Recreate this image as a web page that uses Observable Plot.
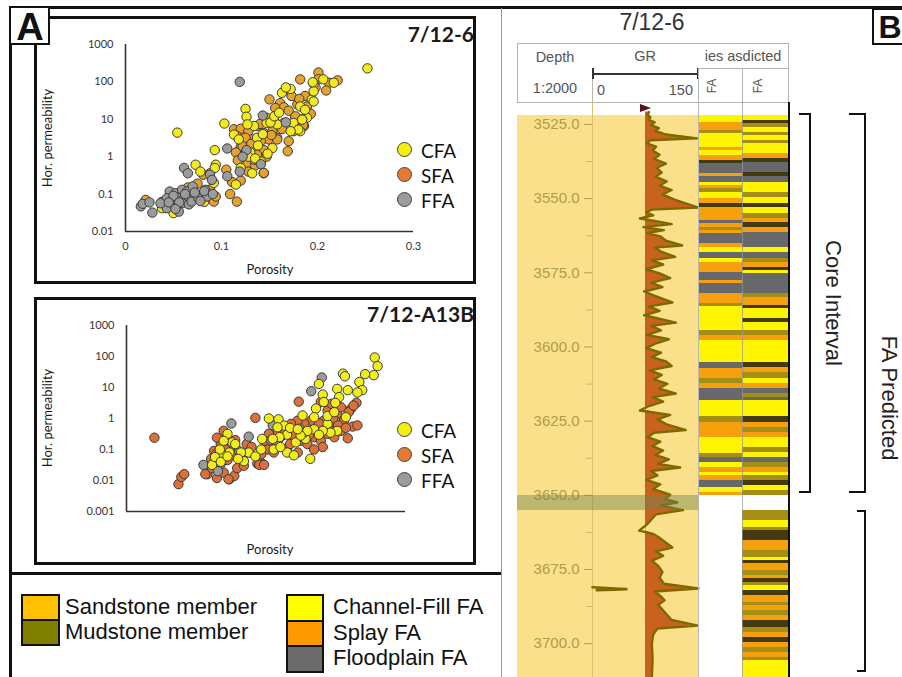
<!DOCTYPE html>
<html><head><meta charset="utf-8">
<script src="https://cdn.jsdelivr.net/npm/d3@7"></script>
<script src="https://cdn.jsdelivr.net/npm/@observablehq/plot@0.6"></script>
<style>
body{margin:0;background:#fff;}
#root{position:relative;width:902px;height:677px;overflow:hidden;background:#fff;font-family:"Liberation Sans",Arial,sans-serif;}
svg{display:block}
</style></head><body><div id="root"></div>
<script>
// ---------------- DATA ----------------
const faCats = ["CFA", "SFA", "FFA"];
const faLegendColors = ["#f6ee10", "#e57a33", "#9b9b9b"];
const p1Colors = ["#f3ea1c", "#e6a32b", "#9b9b9b"];
const p2Colors = ["#f4ee18", "#d9713a", "#9b9b9b"];
const logTicks1 = [0.01, 0.1, 1, 10, 100, 1000];
const logTicks2 = [0.001, 0.01, 0.1, 1, 10, 100, 1000];
const porTicks1 = [0, 0.1, 0.2, 0.3];

// well 7/12-6 : [porosity, horizontal permeability]
const p1CFA = [[0.252,230],[0.054,4.4],[0.125,19],[0.126,11.7],[0.103,7.7],[0.093,1.5],[0.073,0.61],[0.094,0.61],[0.093,0.5],[0.078,0.4],[0.038,0.042],[0.050,0.031],[0.115,0.18],[0.092,0.2],[0.163,51],[0.172,65],[0.196,89],[0.206,117],[0.217,95],[0.194,34],[0.182,22],[0.189,11],[0.184,10],[0.175,8],[0.158,7.3],[0.147,8],[0.134,6.6],[0.127,7.3],[0.113,3.9],[0.118,2.9],[0.137,3.2],[0.153,1.7],[0.130,1.3],[0.141,0.74],[0.132,0.36],[0.182,4.8],[0.196,56],[0.082,0.062],[0.151,8.2],[0.184,9.8],[0.180,5.3],[0.172,4.8],[0.167,71],[0.187,18],[0.196,30],[0.195,98],[0.143,4],[0.128,1.0],[0.12,0.5],[0.138,2.0],[0.155,12],[0.16,15],[0.148,1.2],[0.135,0.9]];
const p1SFA = [[0.201,178],[0.182,117],[0.221,110],[0.212,95],[0.201,118],[0.198,71],[0.209,59],[0.170,59],[0.173,42],[0.150,34],[0.187,42],[0.161,27],[0.165,21],[0.179,25],[0.189,22],[0.170,17],[0.158,15],[0.147,11],[0.155,9],[0.165,8],[0.177,11],[0.186,6.6],[0.175,4.8],[0.170,2.6],[0.169,1.4],[0.113,5.4],[0.120,5.6],[0.128,4.8],[0.137,6.6],[0.144,4.3],[0.153,4.8],[0.158,3.2],[0.149,2.9],[0.141,2.6],[0.132,2.9],[0.125,3.2],[0.116,3.6],[0.120,1.8],[0.115,1.3],[0.134,1.6],[0.144,1.5],[0.137,1.13],[0.147,1.0],[0.130,1.0],[0.127,0.64],[0.135,0.58],[0.144,0.36],[0.128,0.40],[0.120,0.23],[0.111,0.21],[0.109,0.1],[0.116,0.063],[0.092,0.063],[0.094,0.086],[0.088,0.13],[0.075,0.19],[0.081,0.33],[0.088,0.36],[0.021,0.07],[0.040,0.063],[0.069,0.105],[0.038,0.062],[0.185,7],[0.177,12],[0.158,2.9],[0.134,0.83],[0.144,0.37],[0.122,1.9],[0.163,5.5],[0.193,14],[0.181,35],[0.156,20],[0.14,7.5],[0.131,2.2],[0.152,3.8],[0.125,1.2],[0.117,0.8],[0.105,0.45],[0.065,0.15],[0.08,0.08],[0.06,0.09]];
const p1FFA = [[0.119,100],[0.143,12.6],[0.167,8.3],[0.106,1.66],[0.126,1.5],[0.141,0.63],[0.119,0.4],[0.061,0.5],[0.065,0.36],[0.088,0.33],[0.090,0.24],[0.106,0.3],[0.016,0.047],[0.018,0.055],[0.025,0.06],[0.028,0.032],[0.046,0.117],[0.052,0.105],[0.059,0.13],[0.064,0.117],[0.043,0.077],[0.049,0.07],[0.054,0.081],[0.061,0.077],[0.068,0.086],[0.073,0.095],[0.083,0.13],[0.081,0.086],[0.049,0.051],[0.054,0.046],[0.059,0.057],[0.066,0.053],[0.069,0.063],[0.0555,0.034],[0.043,0.042],[0.076,0.077],[0.085,0.086],[0.0365,0.057],[0.122,1.0],[0.07,0.16],[0.082,0.12],[0.072,0.11],[0.062,0.1],[0.05,0.09],[0.056,0.06],[0.078,0.065],[0.045,0.06],[0.052,0.04],[0.091,0.1]];

// well 7/12-A13B
const p2CFA = [[0.258,93],[0.261,49],[0.257,25],[0.248,27],[0.242,15],[0.245,8.2],[0.240,6.9],[0.225,28],[0.227,23],[0.219,9],[0.23,8.2],[0.221,4.9],[0.2,13],[0.204,5.9],[0.205,3.4],[0.197,2.1],[0.217,3.2],[0.209,0.67],[0.219,0.4],[0.212,0.35],[0.204,0.4],[0.195,0.45],[0.186,0.22],[0.191,0.05],[0.185,0.36],[0.176,0.17],[0.167,0.3],[0.159,0.25],[0.152,0.22],[0.141,0.22],[0.148,1.0],[0.158,0.94],[0.164,0.59],[0.157,0.52],[0.167,0.08],[0.174,0.065],[0.153,0.1],[0.127,0.08],[0.134,0.06],[0.122,0.042],[0.107,0.08],[0.1,0.063],[0.094,0.042],[0.089,0.032],[0.105,0.32],[0.11,0.17],[0.113,0.15],[0.101,0.19],[0.097,0.1],[0.092,0.057],[0.119,0.08],[0.195,1.1],[0.188,0.4],[0.181,0.28],[0.209,1.2],[0.228,1.1],[0.216,1.6],[0.183,1.25],[0.17,0.5],[0.178,0.45],[0.2,0.3],[0.16,0.12],[0.14,0.1],[0.116,0.05],[0.098,0.04],[0.105,0.06]];
const p2SFA = [[0.029,0.24],[0.054,0.0076],[0.057,0.013],[0.060,0.016],[0.179,3.5],[0.134,1.05],[0.230,0.23],[0.235,0.55],[0.239,3.2],[0.233,2.0],[0.202,3.4],[0.084,0.016],[0.089,0.025],[0.094,0.012],[0.101,0.018],[0.107,0.011],[0.112,0.014],[0.098,0.034],[0.105,0.046],[0.115,0.025],[0.122,0.03],[0.119,0.055],[0.127,0.08],[0.136,0.035],[0.141,0.035],[0.091,0.09],[0.098,0.15],[0.105,0.19],[0.1,0.06],[0.112,0.065],[0.117,0.088],[0.094,0.24],[0.101,0.4],[0.146,0.1],[0.153,0.08],[0.157,0.15],[0.16,0.25],[0.167,0.11],[0.174,0.28],[0.181,0.19],[0.188,0.15],[0.195,0.25],[0.202,0.19],[0.209,0.32],[0.216,0.25],[0.223,0.4],[0.226,0.85],[0.219,1.4],[0.212,0.67],[0.205,0.85],[0.198,0.52],[0.192,0.85],[0.185,0.67],[0.178,0.85],[0.171,0.67],[0.164,0.52],[0.157,0.4],[0.148,0.32],[0.143,0.19],[0.209,1.8],[0.223,2.3],[0.231,1.6],[0.204,0.12],[0.195,0.1],[0.178,0.08],[0.088,0.05],[0.093,0.07],[0.108,0.12],[0.113,0.2],[0.103,0.1],[0.096,0.045],[0.125,0.15],[0.13,0.12],[0.14,0.07],[0.15,0.2],[0.165,0.35],[0.17,0.15],[0.185,0.35],[0.19,0.3],[0.2,0.7],[0.21,0.45],[0.215,1.0],[0.22,0.6],[0.228,0.5],[0.24,0.6],[0.236,2.6],[0.213,3.0],[0.138,0.032],[0.143,0.032],[0.082,0.016],[0.106,0.011]];
const p2FFA = [[0.203,21],[0.192,7.6],[0.109,0.69],[0.127,0.26],[0.152,0.6],[0.18,0.47],[0.08,0.032],[0.095,0.02]];

const memberLabels = ["Sandstone member", "Mudstone member"];
const memberColors = ["#ffc000", "#7f7f00"];
const faLabels = ["Channel-Fill FA", "Splay FA", "Floodplain FA"];
const faColors = ["#ffff00", "#ff9900", "#6b6b6b"];

const depthTicks = [3525, 3550, 3575, 3600, 3625, 3650, 3675, 3700];
const depthMinor = [3537.5, 3562.5, 3587.5, 3612.5, 3637.5, 3662.5, 3687.5];
const depthDomain = [3517.6, 3711.4];
const grDomain = [0, 150];
const grBaseline = 75;
// [depth m, GR API]
const grLog = [[3520.8,80],[3521.8,78],[3522.6,82],[3523.4,79],[3524.3,88],[3525.2,83],[3526.2,94],[3527.2,89],[3528.4,104],[3529.7,148],[3530.3,82],[3531.4,77],[3532.5,90],[3533.8,85],[3535.2,95],[3536.6,87],[3538.2,104],[3539.6,91],[3541.2,98],[3542.6,89],[3544.2,105],[3545.6,95],[3547.1,112],[3548.6,99],[3550.4,117],[3553.0,150],[3553.7,84],[3554.6,76],[3555.6,86],[3556.7,67],[3557.5,88],[3558.6,112],[3559.6,72],[3560.6,101],[3561.6,78],[3562.7,96],[3564.2,104],[3565.8,127],[3566.5,88],[3567.9,97],[3569.6,117],[3570.8,84],[3572.2,100],[3573.8,76],[3575.3,96],[3576.8,110],[3578.3,83],[3579.8,99],[3581.3,73],[3583.0,91],[3585.0,113],[3586.3,80],[3587.8,95],[3589.3,73],[3590.8,100],[3591.8,118],[3592.9,83],[3594.4,97],[3595.9,77],[3597.4,108],[3598.9,89],[3600.4,76],[3601.9,97],[3603.4,84],[3604.9,104],[3606.4,112],[3607.9,81],[3609.4,98],[3610.9,87],[3612.4,106],[3614.0,94],[3615.7,118],[3616.9,85],[3618.4,100],[3619.9,80],[3621.4,67],[3622.9,110],[3624.4,92],[3626.0,104],[3628.0,132],[3628.9,87],[3630.4,78],[3631.9,96],[3633.4,85],[3634.9,100],[3636.4,89],[3637.9,108],[3639.4,93],[3640.6,124],[3641.8,83],[3643.3,92],[3644.8,76],[3646.3,96],[3647.9,86],[3649.8,110],[3651.3,103],[3652.4,120],[3653.4,97],[3655.0,128],[3656.4,90],[3658.0,84],[3659.8,77],[3661.9,66],[3663.0,86],[3664.5,96],[3666.0,104],[3667.6,113],[3668.9,90],[3670.4,100],[3672.0,84],[3673.8,93],[3675.8,99],[3677.8,95],[3679.8,101],[3681.4,150],[3682.4,88],[3683.9,96],[3685.4,102],[3686.9,93],[3688.8,100],[3690.4,106],[3692.0,112],[3693.9,149],[3694.9,92],[3696.8,86],[3700.0,84],[3705.0,85],[3711.4,84]];
const grAux = [[3681.0,0],[3681.2,14],[3681.4,32],[3681.6,48],[3681.8,30],[3682.0,6]];

const faciesCodes = ["Y", "O", "G", "D", "L"];
const faciesColors = ["#fff500", "#f5a00c", "#67686c", "#45390f", "#a58e14"];
// [top, base, facies]
const col1Facies = [[3522.0,3524.5,"Y"],[3524.5,3527.0,"O"],[3527.0,3528.1,"L"],[3528.1,3532.6,"Y"],[3532.6,3533.8,"O"],[3533.8,3535.4,"Y"],[3535.4,3537.1,"O"],[3537.1,3538.3,"D"],[3538.3,3541.6,"G"],[3541.6,3542.7,"O"],[3542.7,3544.4,"G"],[3544.4,3545.6,"Y"],[3545.6,3546.7,"O"],[3546.7,3547.8,"L"],[3547.8,3550.1,"Y"],[3550.1,3551.7,"O"],[3551.7,3552.9,"D"],[3552.9,3557.4,"O"],[3557.4,3558.5,"G"],[3558.5,3559.6,"O"],[3559.6,3560.7,"L"],[3560.7,3561.9,"O"],[3561.9,3565.2,"G"],[3565.2,3566.4,"O"],[3566.4,3568.0,"Y"],[3568.0,3570.3,"G"],[3570.3,3571.4,"Y"],[3571.4,3574.8,"O"],[3574.8,3577.6,"G"],[3577.6,3578.7,"O"],[3578.7,3582.1,"G"],[3582.1,3585.4,"O"],[3585.4,3586.5,"L"],[3586.5,3594.4,"Y"],[3594.4,3596.1,"L"],[3596.1,3597.8,"O"],[3597.8,3605.1,"Y"],[3605.1,3607.3,"G"],[3607.3,3610.7,"O"],[3610.7,3612.4,"L"],[3612.4,3614.1,"O"],[3614.1,3618.0,"G"],[3618.0,3623.6,"Y"],[3623.6,3625.3,"L"],[3625.3,3630.4,"O"],[3630.4,3636.0,"Y"],[3636.0,3637.1,"L"],[3637.1,3638.8,"G"],[3638.8,3640.5,"Y"],[3640.5,3642.2,"O"],[3642.2,3643.3,"Y"],[3643.3,3645.0,"O"],[3645.0,3647.2,"G"],[3647.2,3648.9,"Y"],[3648.9,3650.0,"O"]];
const col2Facies = [[3522.0,3523.6,"Y"],[3523.6,3524.8,"D"],[3524.8,3525.9,"L"],[3525.9,3527.6,"Y"],[3527.6,3528.7,"L"],[3528.7,3530.4,"Y"],[3530.4,3531.5,"L"],[3531.5,3534.9,"Y"],[3534.9,3536.6,"O"],[3536.6,3537.7,"D"],[3537.7,3541.1,"G"],[3541.1,3542.5,"D"],[3542.5,3544.4,"G"],[3544.4,3547.8,"Y"],[3547.8,3549.5,"L"],[3549.5,3551.7,"Y"],[3551.7,3552.9,"D"],[3552.9,3555.1,"Y"],[3555.1,3556.8,"L"],[3556.8,3557.9,"O"],[3557.9,3559.6,"D"],[3559.6,3561.3,"O"],[3561.3,3566.4,"G"],[3566.4,3568.0,"Y"],[3568.0,3570.3,"G"],[3570.3,3571.4,"L"],[3571.4,3573.1,"O"],[3573.1,3574.2,"D"],[3574.2,3575.3,"Y"],[3575.3,3582.1,"G"],[3582.1,3583.2,"L"],[3583.2,3586.0,"O"],[3586.0,3587.1,"D"],[3587.1,3590.5,"Y"],[3590.5,3591.6,"D"],[3591.6,3594.4,"Y"],[3594.4,3596.1,"L"],[3596.1,3597.8,"O"],[3597.8,3605.1,"Y"],[3605.1,3606.8,"D"],[3606.8,3608.5,"O"],[3608.5,3610.7,"L"],[3610.7,3612.4,"Y"],[3612.4,3614.1,"O"],[3614.1,3615.8,"G"],[3615.8,3616.9,"L"],[3616.9,3618.0,"G"],[3618.0,3623.6,"Y"],[3623.6,3625.3,"D"],[3625.3,3627.0,"O"],[3627.0,3628.7,"L"],[3628.7,3630.4,"O"],[3630.4,3633.8,"Y"],[3633.8,3635.4,"L"],[3635.4,3637.1,"Y"],[3637.1,3638.8,"G"],[3638.8,3640.5,"L"],[3640.5,3642.2,"O"],[3642.2,3643.3,"Y"],[3643.3,3645.0,"L"],[3645.0,3646.7,"D"],[3646.7,3648.4,"Y"],[3648.4,3650.0,"L"],
[3655.2,3658.5,"L"],[3658.5,3660.8,"Y"],[3660.8,3661.9,"L"],[3661.9,3665.3,"D"],[3665.3,3668.6,"O"],[3668.6,3670.9,"L"],[3670.9,3672.0,"Y"],[3672.0,3673.1,"D"],[3673.1,3675.4,"O"],[3675.4,3677.1,"L"],[3677.1,3678.2,"O"],[3678.2,3679.3,"D"],[3679.3,3680.4,"L"],[3680.4,3682.1,"Y"],[3682.1,3683.8,"D"],[3683.8,3686.1,"O"],[3686.1,3687.2,"L"],[3687.2,3688.9,"O"],[3688.9,3690.6,"L"],[3690.6,3692.2,"O"],[3692.2,3694.5,"D"],[3694.5,3696.2,"L"],[3696.2,3697.9,"O"],[3697.9,3699.5,"D"],[3699.5,3701.2,"O"],[3701.2,3702.9,"L"],[3702.9,3704.6,"O"],[3704.6,3705.7,"L"],[3705.7,3711.5,"Y"]];
const highlightBand = [3650.1, 3655.1];
const coreInterval = [3521.3, 3649.5];
const predictedIntervals = [[3521.3, 3649.5], [3655.1, 3709.8]];

// ---------------- HELPERS ----------------
const root = document.getElementById("root");
function div(css, txt) {
  const e = document.createElement("div");
  e.style.cssText = "position:absolute;" + css;
  if (txt != null) e.textContent = txt;
  root.appendChild(e);
  return e;
}
function label(txt, x, y, css = "", ax = 0.5, rot = 0) {
  return div(`left:${x}px;top:${y}px;white-space:nowrap;line-height:1;transform:translate(${-ax * 100}%,-50%)${rot ? ` rotate(${rot}deg)` : ""};${css}`, txt);
}
function place(node, left, top) {
  node.style.position = "absolute";
  node.style.left = left + "px";
  node.style.top = top + "px";
  root.appendChild(node);
  return node;
}

// ---------------- PANEL A : SCATTER PLOTS ----------------
function scatter(o) {
  const data = o.series.flatMap(([cat, pts]) => pts.map(([p, k]) => ({cat, p, k})));
  const chart = Plot.plot({
    width: o.width, height: o.height,
    marginLeft: o.ml, marginRight: o.mr, marginTop: o.mt, marginBottom: o.mb,
    style: {background: "transparent", fontFamily: "Lato, 'Open Sans', sans-serif", fontSize: "11px", color: "#333", overflow: "visible"},
    x: {domain: o.xDomain, label: null, axis: o.xTicks ? "bottom" : null, ticks: o.xTicks, tickSize: 0, tickPadding: 11, tickFormat: String},
    y: {type: "log", domain: o.yDomain, label: null, ticks: o.yTicks, tickSize: 0, tickPadding: 12, tickFormat: String},
    color: {domain: faCats, range: o.colors},
    marks: [
      Plot.ruleX([o.xDomain[0]], {stroke: "#333", strokeWidth: 1.6}),
      Plot.ruleY([o.yDomain[0]], {stroke: "#333", strokeWidth: 1.6}),
      Plot.dot(data, {x: "p", y: "k", fill: "cat", r: 4.7, stroke: "#3a3a3a", strokeWidth: 1})
    ]
  });
  place(chart, o.left, o.top);
  return chart;
}

scatter({series: [["SFA", p1SFA], ["CFA", p1CFA], ["FFA", p1FFA]], colors: p1Colors,
  left: 35, top: 17, width: 440, height: 266, ml: 90, mr: 62, mt: 27, mb: 52,
  xDomain: [0, 0.3], xTicks: porTicks1, yDomain: [0.01, 1000], yTicks: logTicks1});
scatter({series: [["SFA", p2SFA], ["FFA", p2FFA], ["CFA", p2CFA]], colors: p2Colors,
  left: 35, top: 297, width: 440, height: 267, ml: 91, mr: 70, mt: 28, mb: 53,
  xDomain: [0, 0.29], xTicks: null, yDomain: [0.001, 1000], yTicks: logTicks2});

// frames of the scatter plots
div("left:34px;top:16px;width:442px;height:268px;border:3px solid #111;box-sizing:border-box;");
div("left:34px;top:297px;width:442px;height:268px;border:3px solid #111;box-sizing:border-box;");

// titles and axis labels
const lab = "font-family:Lato,'Open Sans',sans-serif;color:#1a1a1a;";
label("7/12-6", 474, 33, lab + "font-size:21px;font-weight:700;", 1);
label("7/12-A13B", 474, 313, lab + "font-size:21px;font-weight:700;", 1);
label("Porosity", 270, 269, lab + "font-size:13px;");
label("Porosity", 270, 549, lab + "font-size:13px;");
label("Hor. permeability", 47, 138, lab + "font-size:13px;", 0.5, -90);
label("Hor. permeability", 47, 418, lab + "font-size:13px;", 0.5, -90);

// scatter legends
[[149, 174, 199], [429, 454, 479]].forEach(ys => {
  faCats.forEach((c, i) => {
    div(`left:${404 - 7.5}px;top:${ys[i] - 7.5}px;width:15px;height:15px;border-radius:50%;background:${faLegendColors[i]};border:1.2px solid #444;box-sizing:border-box;`);
    label(c, 421, ys[i] + 1, lab + "font-size:19px;color:#111;", 0);
  });
});

// outer frame of panel A
div("left:9px;top:6px;width:893px;height:2.5px;background:#111;");
div("left:9px;top:6px;width:2.5px;height:671px;background:#111;");
div("left:9px;top:572px;width:493px;height:2.5px;background:#111;");
div("left:501px;top:8px;width:1px;height:669px;background:#999;");
div("left:9px;top:6px;width:41px;height:39px;border:2.5px solid #111;box-sizing:border-box;background:#fff;");
label("A", 30, 27, "font-size:38px;font-weight:700;color:#111;font-family:'Liberation Sans',Arial,sans-serif;");

// bottom legend
memberLabels.forEach((t, i) => {
  div(`left:21px;top:${594 + 25 * i}px;width:39px;height:27px;background:${memberColors[i]};border:2px solid #111;box-sizing:border-box;`);
  label(t, 65, 607 + 25 * i, "font-size:22px;color:#111;", 0);
});
faLabels.forEach((t, i) => {
  div(`left:286px;top:${594 + 25.5 * i}px;width:38px;height:27.5px;background:${faColors[i]};border:2px solid #111;box-sizing:border-box;`);
  label(t, 333, 607 + 25.5 * i, "font-size:22px;color:#111;", 0);
});

// ---------------- PANEL B : WELL LOG ----------------
const logTop = 102, logH = 575;
label("7/12-6", 652, 22, "font-size:23px;color:#333;");
div("left:872px;top:8px;width:34px;height:37px;border:2.5px solid #111;box-sizing:border-box;background:#fff;");
label("B", 890, 27, "font-size:32px;font-weight:700;color:#111;");

// header
div("left:517px;top:43px;width:272px;height:60px;border:1px solid #b4b4b4;box-sizing:border-box;background:#fff;");
div("left:698px;top:68px;width:90px;height:1px;background:#b4b4b4;");
div("left:592px;top:68px;width:1px;height:34px;background:#b4b4b4;");
div("left:698px;top:68px;width:1px;height:34px;background:#b4b4b4;");
div("left:742px;top:68px;width:1px;height:34px;background:#b4b4b4;");
const hd = "font-size:14.5px;color:#555;";
label("Depth", 555, 57, hd);
label("GR", 645, 56, hd);
label("1:2000", 555, 88, hd);
label("0", 601, 90, hd);
label("150", 693, 90, hd, 1);
const clip = div("left:699px;top:46px;width:89px;height:20px;overflow:hidden;");
const ct = document.createElement("div");
ct.textContent = "ies asdicted";
ct.style.cssText = "position:absolute;left:44px;top:10px;transform:translate(-50%,-50%);white-space:nowrap;line-height:1;font-size:14.5px;color:#555;";
clip.appendChild(ct);
label("FA", 712, 86, "font-size:12px;color:#555;", 0.5, -90);
label("FA", 758, 86, "font-size:12px;color:#555;", 0.5, -90);
div("left:593px;top:73px;width:105px;height:1.6px;background:#333;");
div("left:592px;top:68px;width:1.6px;height:11px;background:#333;");
div("left:696.5px;top:68px;width:1.6px;height:11px;background:#333;");

// tan background of depth + GR tracks
div("left:517px;top:115px;width:181px;height:562px;background:#fbe08c;");

// depth + GR track
const grPlot = Plot.plot({
  width: 181, height: logH, marginLeft: 75, marginRight: 0, marginTop: 0, marginBottom: 0,
  style: {background: "transparent", fontFamily: "'Liberation Sans', Arial, sans-serif", overflow: "visible"},
  x: {domain: grDomain, axis: null},
  y: {domain: depthDomain, reverse: true},
  marks: [
    Plot.ruleX([grDomain[0]], {stroke: "#dcc06e", strokeWidth: 1}),
    Plot.areaX(grLog, {y: d => d[0], x1: grBaseline, x2: d => Math.max(d[1], grBaseline), fill: "#c8621e"}),
    Plot.lineX(grLog, {y: d => d[0], x: d => d[1], stroke: "#7c6a00", strokeWidth: 2.4}),
    Plot.lineX(grAux, {y: d => d[0], x: d => d[1], stroke: "#7c6a00", strokeWidth: 2.6}),
    Plot.axisY(depthTicks, {anchor: "left", tickFormat: d => d.toFixed(1), tickSize: 8, tickPadding: 5, color: "#ae9d4c", fontSize: 15}),
    Plot.axisY(depthMinor, {anchor: "left", tickFormat: () => "", tickSize: 6, color: "#cdb765"})
  ]
});
place(grPlot, 517, logTop);
const ys = grPlot.scale("y");

// highlighted depth band
const bTop = logTop + ys.apply(highlightBand[0]);
div(`left:517px;top:${bTop}px;width:181px;height:${ys.apply(highlightBand[1]) - ys.apply(highlightBand[0])}px;background:rgba(110,130,80,0.45);`);
// GR marker flag
div(`left:640px;top:${logTop + 2}px;width:0;height:0;border-left:11px solid #5b0f1e;border-top:4px solid transparent;border-bottom:4px solid transparent;`);

// facies tracks
function faciesTrack(intervals, left, width) {
  const p = Plot.plot({
    width, height: logH, margin: 0,
    style: {background: "transparent"},
    y: {domain: depthDomain, reverse: true, axis: null},
    color: {domain: faciesCodes, range: faciesColors},
    marks: [Plot.rect(intervals, {y1: d => d[0], y2: d => d[1], fill: d => d[2], shapeRendering: "crispEdges"})]
  });
  place(p, left, logTop);
}
faciesTrack(col1Facies, 698, 44);
faciesTrack(col2Facies, 742, 46);

div(`left:698px;top:${logTop}px;width:1px;height:${logH}px;background:#b8b8b8;`);
div(`left:742px;top:${logTop}px;width:1px;height:${logH}px;background:rgba(150,150,150,0.7);`);
div(`left:787.5px;top:${logTop}px;width:2.5px;height:${logH}px;background:#111;`);

// brackets
function bracket(interval, hookLeft, lineX) {
  const t = logTop + ys.apply(interval[0]), b = logTop + ys.apply(interval[1]);
  div(`left:${hookLeft}px;top:${t}px;width:${lineX - hookLeft}px;height:${b - t}px;border-top:2.5px solid #111;border-bottom:2.5px solid #111;border-right:2.5px solid #111;box-sizing:border-box;`);
}
bracket(coreInterval, 799, 811);
bracket(predictedIntervals[0], 849, 866);
bracket(predictedIntervals[1], 857, 866);
label("Core Interval", 833, 303, "font-size:22px;color:#222;", 0.5, 90);
label("FA Predicted", 889, 398, "font-size:22px;color:#222;", 0.5, 90);
</script></body></html>
